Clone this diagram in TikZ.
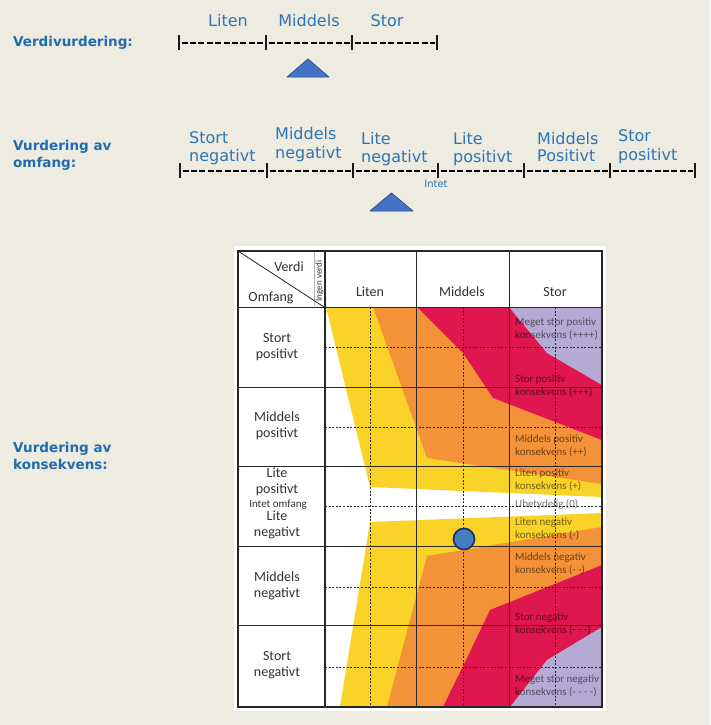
\documentclass[tikz,border=0pt]{standalone}
\usepackage{fontspec}
\setmainfont{DejaVu Sans}
\newfontfamily\carlito{Carlito}
\definecolor{bg}{RGB}{238,235,225}
\definecolor{lblue}{RGB}{46,117,182}
\definecolor{bblue}{RGB}{31,108,176}
\definecolor{cyel}{RGB}{249,211,40}
\definecolor{cora}{RGB}{243,146,56}
\definecolor{cred}{RGB}{224,22,78}
\definecolor{cpur}{RGB}{180,170,212}
\definecolor{tri}{RGB}{68,114,196}
\definecolor{trib}{RGB}{47,82,143}
\definecolor{gridc}{RGB}{40,40,40}
\definecolor{tgray}{RGB}{50,50,50}
\definecolor{dotfill}{RGB}{70,125,190}
\definecolor{dotline}{RGB}{30,55,100}
\begin{document}
\begin{tikzpicture}[x=1pt,y=-1pt,
  boldlbl/.style={font=\fontsize{13.5}{16}\selectfont\bfseries, text=bblue, anchor=base west, inner sep=0pt},
  scalelbl/.style={font=\fontsize{16}{18}\selectfont, text=lblue, inner sep=0pt},
  ticks/.style={line width=2.3pt, draw=black!90},
  dashes/.style={line width=1.4pt, draw=black, dash pattern=on 6pt off 2.4pt},
  marker/.style={fill=tri, draw=trib, line width=0.8pt, line join=round},
  tbl/.style={font=\carlito\fontsize{14}{15.5}\selectfont, text=tgray, align=center, inner sep=0pt},
  kons/.style={font=\carlito\fontsize{11}{13}\selectfont, text=black, text opacity=0.55, align=left, anchor=west, inner sep=0pt},
  gridline/.style={draw=gridc, line width=1pt},
  dgrid/.style={draw=gridc, line width=1pt, dash pattern=on 2pt off 1.6pt},
]
\useasboundingbox[fill=bg] (0,0) rectangle (710,725);

% ---------- Verdivurdering ----------
\node[boldlbl] (vv) at (13,47) {Verdivurdering:};
\node[scalelbl, anchor=base] (v1) at (228,27) {Liten};
\node[scalelbl, anchor=base] (v2) at (309,27) {Middels};
\node[scalelbl, anchor=base] (v3) at (387,27) {Stor};
\foreach \x in {179,266,352,437} { \draw[ticks] (\x,35) -- (\x,50); }
\foreach \a/\b in {179/266,266/352,352/437} { \draw[dashes] (\a+2.5,43) -- (\b-2,43); }
\path[marker] (287,77) -- (308,59) -- (329,77) -- cycle;

% ---------- Vurdering av omfang ----------
\node[boldlbl] (om1) at (13,150) {Vurdering av};
\node[boldlbl] (om2) at (13,167) {omfang:};
\node[scalelbl, anchor=base west] (o1a) at (189,143) {Stort};
\node[scalelbl, anchor=base west] (o1b) at (189,161) {negativt};
\node[scalelbl, anchor=base west] (o2a) at (275,139) {Middels};
\node[scalelbl, anchor=base west] (o2b) at (275,158) {negativt};
\node[scalelbl, anchor=base west] (o3a) at (361,144) {Lite};
\node[scalelbl, anchor=base west] (o3b) at (361,162) {negativt};
\node[scalelbl, anchor=base west] (o4a) at (453,144) {Lite};
\node[scalelbl, anchor=base west] (o4b) at (453,162) {positivt};
\node[scalelbl, anchor=base west] (o5a) at (537,144) {Middels};
\node[scalelbl, anchor=base west] (o5b) at (537,161) {Positivt};
\node[scalelbl, anchor=base west] (o6a) at (618,141) {Stor};
\node[scalelbl, anchor=base west] (o6b) at (618,160) {positivt};
\foreach \x in {180,267,353,438,524,610,695} { \draw[ticks] (\x,163) -- (\x,178); }
\foreach \a/\b in {180/267,267/353,353/438,438/524,524/610,610/695} { \draw[dashes] (\a+2.5,171) -- (\b-2,171); }
\node[font=\fontsize{10}{12}\selectfont, text=lblue, inner sep=0pt] (intet) at (436,184) {Intet};
\path[marker] (370,211) -- (391.5,193) -- (413,211) -- cycle;

% ---------- Vurdering av konsekvens ----------
\node[boldlbl] (k1) at (13,452) {Vurdering av};
\node[boldlbl] (k2) at (13,469) {konsekvens:};

% ---------- matrix ----------
\fill[white] (234,246) rectangle (606,711);
% coloured zones
\fill[cyel] (326,307) -- (602,307) -- (602,497) -- (370,487) -- cycle;
\fill[cyel] (370,522) -- (602,513) -- (602,707) -- (340,707) -- cycle;
\fill[cora] (373,307) -- (602,307) -- (602,484) -- (427,458) -- cycle;
\fill[cora] (427,556) -- (602,527) -- (602,707) -- (387,707) -- cycle;
\fill[cred] (417,307) -- (602,307) -- (602,440) -- (493,398) -- (463,353) -- cycle;
\fill[cred] (443,707) -- (466,660) -- (490,610) -- (602,565) -- (602,707) -- cycle;
\fill[cpur] (509,307) -- (602,307) -- (602,385) -- (547,353) -- cycle;
\fill[cpur] (510,707) -- (547,660) -- (602,627) -- (602,707) -- cycle;
% dashed grid
\foreach \x in {370,463,555} { \draw[dgrid] (\x,307) -- (\x,707); }
\foreach \y in {347,427,506,587,667} { \draw[dgrid] (325,\y) -- (602,\y); }
% solid grid
\foreach \y in {307,387,466,546,625} { \draw[gridline] (238,\y) -- (602,\y); }
\foreach \x in {416,509} { \draw[gridline] (\x,251) -- (\x,707); }
\draw[draw=gray!60, line width=0.6pt] (314,252) -- (314,306);
\draw[draw=gridc, line width=0.8pt] (238,251) -- (324,307);
\draw[draw=gridc, line width=2.6pt] (325,251) -- (325,707);
\draw[draw=gridc, line width=1.5pt] (238,251) rectangle (602,707);

% header texts
\node[tbl] (hv) at (289,267) {Verdi};
\node[tbl] (ho) at (271,298) {Omfang};
\node[tbl, font=\carlito\fontsize{9}{10}\selectfont, rotate=90] (hi) at (319.5,281) {Ingen verdi};
\node[tbl] (c1) at (370,292) {Liten};
\node[tbl] (c2) at (462,292) {Middels};
\node[tbl] (c3) at (555,292) {Stor};
% row labels
\node[tbl] (r1) at (277,347) {Stort\\positivt};
\node[tbl] (r2) at (277,426) {Middels\\positivt};
\node[tbl] (r3) at (277,482) {Lite\\positivt};
\node[tbl, font=\carlito\fontsize{11}{12}\selectfont] (r0) at (278,505) {Intet omfang};
\node[tbl] (r4) at (277,525) {Lite\\negativt};
\node[tbl] (r5) at (277,586) {Middels\\negativt};
\node[tbl] (r6) at (277,665) {Stort\\negativt};
% consequence labels
\node[kons] (p4) at (515,329) {Meget stor positiv\\konsekvens (++++)};
\node[kons] (p3) at (515,386) {Stor positiv\\konsekvens (+++)};
\node[kons] (p2) at (515,446) {Middels positiv\\konsekvens (++)};
\node[kons] (p1) at (515,480) {Liten positiv\\konsekvens (+)};
\node[kons] (z0) at (515,504) {Ubetydelig (0)};
\node[kons] (n1) at (515,529) {Liten negativ\\konsekvens (-)};
\node[kons] (n2) at (515,564) {Middels negativ\\konsekvens (- -)};
\node[kons] (n3) at (515,624) {Stor negativ\\konsekvens (- - -)};
\node[kons] (n4) at (515,686) {Meget stor negativ\\konsekvens (- - - -)};
% assessment point
\node[circle, fill=dotfill, draw=dotline, line width=1.8pt, minimum size=21pt, inner sep=0pt] (dot) at (464,539) {};
\end{tikzpicture}
\end{document}
